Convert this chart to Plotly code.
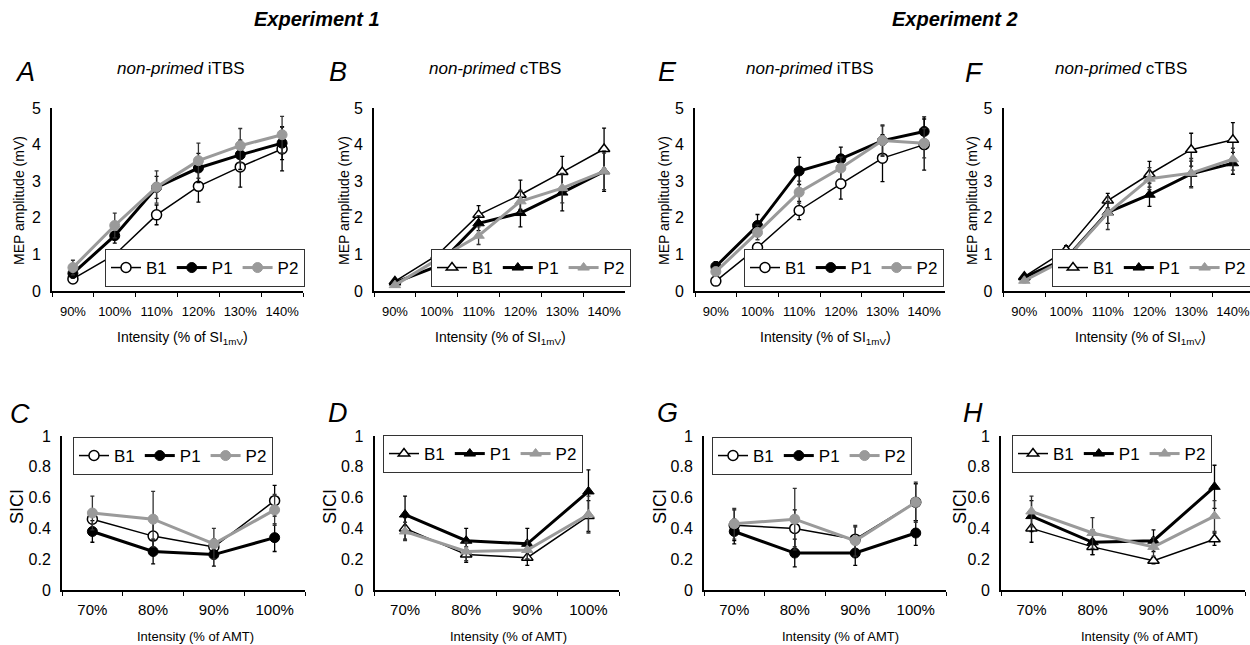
import plotly.graph_objects as go

W, H = 1250, 645
FONT = "Liberation Sans, Arial, sans-serif"

mep_cats = ["90%", "100%", "110%", "120%", "130%", "140%"]
sici_cats = ["70%", "80%", "90%", "100%"]
series_names = ["B1", "P1", "P2"]

# Experiment 1 - non-primed iTBS (A)
A_B1 = [0.33, 0.99, 2.08, 2.86, 3.39, 3.88]
A_P1 = [0.48, 1.51, 2.83, 3.36, 3.72, 4.04]
A_P2 = [0.64, 1.79, 2.84, 3.56, 3.97, 4.27]
A_B1_err = [0.07, 0.12, 0.27, 0.43, 0.55, 0.60]
A_P1_err = [0.12, 0.20, 0.30, 0.40, 0.40, 0.45]
A_P2_err = [0.20, 0.34, 0.44, 0.48, 0.47, 0.50]

# Experiment 1 - non-primed cTBS (B)
B_B1 = [0.26, 0.97, 2.08, 2.63, 3.25, 3.88]
B_P1 = [0.23, 0.67, 1.85, 2.13, 2.69, 3.27]
B_P2 = [0.16, 0.85, 1.51, 2.45, 2.81, 3.27]
B_B1_err = [0.06, 0.10, 0.25, 0.40, 0.43, 0.57]
B_P1_err = [0.05, 0.08, 0.20, 0.38, 0.50, 0.55]
B_P2_err = [0.05, 0.10, 0.24, 0.30, 0.40, 0.50]

# Experiment 2 - non-primed iTBS (E)
E_B1 = [0.27, 1.19, 2.20, 2.93, 3.63, 4.00]
E_P1 = [0.67, 1.79, 3.28, 3.61, 4.11, 4.36]
E_P2 = [0.53, 1.60, 2.70, 3.36, 4.11, 4.04]
E_B1_err = [0.05, 0.12, 0.25, 0.42, 0.64, 0.70]
E_P1_err = [0.13, 0.30, 0.37, 0.32, 0.40, 0.40]
E_P2_err = [0.10, 0.20, 0.30, 0.30, 0.43, 0.40]

# Experiment 2 - non-primed cTBS (F)
F_B1 = [0.39, 1.12, 2.47, 3.19, 3.86, 4.13]
F_P1 = [0.37, 0.89, 2.15, 2.63, 3.20, 3.49]
F_P2 = [0.28, 0.87, 2.13, 3.07, 3.22, 3.60]
F_B1_err = [0.06, 0.12, 0.20, 0.35, 0.45, 0.47]
F_P1_err = [0.05, 0.23, 0.30, 0.32, 0.35, 0.30]
F_P2_err = [0.05, 0.15, 0.45, 0.30, 0.40, 0.30]

# SICI panels
C_B1 = [0.46, 0.35, 0.28, 0.58]
C_P1 = [0.38, 0.25, 0.23, 0.34]
C_P2 = [0.50, 0.46, 0.30, 0.52]
C_B1_err = [0.06, 0.10, 0.05, 0.10]
C_P1_err = [0.07, 0.08, 0.075, 0.09]
C_P2_err = [0.11, 0.18, 0.10, 0.10]

D_B1 = [0.40, 0.23, 0.21, 0.48]
D_P1 = [0.49, 0.32, 0.30, 0.64]
D_P2 = [0.38, 0.25, 0.26, 0.49]
D_B1_err = [0.07, 0.05, 0.05, 0.10]
D_P1_err = [0.12, 0.08, 0.10, 0.14]
D_P2_err = [0.06, 0.06, 0.06, 0.12]

G_B1 = [0.42, 0.40, 0.33, 0.57]
G_P1 = [0.38, 0.24, 0.24, 0.37]
G_P2 = [0.43, 0.46, 0.32, 0.57]
G_B1_err = [0.10, 0.12, 0.08, 0.12]
G_P1_err = [0.08, 0.09, 0.08, 0.08]
G_P2_err = [0.10, 0.20, 0.10, 0.13]

H_B1 = [0.40, 0.28, 0.19, 0.33]
H_P1 = [0.48, 0.31, 0.32, 0.67]
H_P2 = [0.51, 0.37, 0.28, 0.48]
H_B1_err = [0.09, 0.05, 0.02, 0.04]
H_P1_err = [0.10, 0.08, 0.07, 0.14]
H_P2_err = [0.10, 0.10, 0.06, 0.10]

panels = [
    dict(letter="A", cats=mep_cats, sym="circle", data=[A_B1, A_P1, A_P2], err=[A_B1_err, A_P1_err, A_P2_err],
         xd=(52, 303), yd=(291, 108), yr=[0, 5], xr=[-0.5, 5.5]),
    dict(letter="B", cats=mep_cats, sym="triangle-up", data=[B_B1, B_P1, B_P2], err=[B_B1_err, B_P1_err, B_P2_err],
         xd=(374, 625), yd=(291, 108), yr=[0, 5], xr=[-0.5, 5.5]),
    dict(letter="E", cats=mep_cats, sym="circle", data=[E_B1, E_P1, E_P2], err=[E_B1_err, E_P1_err, E_P2_err],
         xd=(695, 945), yd=(291, 108), yr=[0, 5], xr=[-0.5, 5.5]),
    dict(letter="F", cats=mep_cats, sym="triangle-up", data=[F_B1, F_P1, F_P2], err=[F_B1_err, F_P1_err, F_P2_err],
         xd=(1003.5, 1250), yd=(291, 108), yr=[0, 5], xr=[-0.5, 5.41]),
    dict(letter="C", cats=sici_cats, sym="circle", data=[C_B1, C_P1, C_P2], err=[C_B1_err, C_P1_err, C_P2_err],
         xd=(62, 305), yd=(590, 436), yr=[0, 1], xr=[-0.5, 3.5]),
    dict(letter="D", cats=sici_cats, sym="triangle-up", data=[D_B1, D_P1, D_P2], err=[D_B1_err, D_P1_err, D_P2_err],
         xd=(374.5, 619), yd=(590, 436), yr=[0, 1], xr=[-0.5, 3.5]),
    dict(letter="G", cats=sici_cats, sym="circle", data=[G_B1, G_P1, G_P2], err=[G_B1_err, G_P1_err, G_P2_err],
         xd=(704, 946), yd=(590, 436), yr=[0, 1], xr=[-0.5, 3.5]),
    dict(letter="H", cats=sici_cats, sym="triangle-up", data=[H_B1, H_P1, H_P2], err=[H_B1_err, H_P1_err, H_P2_err],
         xd=(1001, 1245), yd=(590, 436), yr=[0, 1], xr=[-0.5, 3.5]),
]

styles = {
    "B1": dict(line=dict(color="black", width=1.5),
               marker=dict(color="white", size=10, line=dict(color="black", width=1.5)),
               ecolor="black"),
    "P1": dict(line=dict(color="black", width=3),
               marker=dict(color="black", size=10, line=dict(color="black", width=1)),
               ecolor="black"),
    "P2": dict(line=dict(color="#9a9a9a", width=3),
               marker=dict(color="#9a9a9a", size=10, line=dict(color="#9a9a9a", width=1)),
               ecolor="#333333"),
}

legend_pos = {
    "A": (305, 287, "right", "bottom"),
    "B": (631, 287, "right", "bottom"),
    "E": (944, 287, "right", "bottom"),
    "F": (1252, 287, "right", "bottom"),
    "C": (73, 437, "left", "top"),
    "D": (383, 435, "left", "top"),
    "G": (712, 437, "left", "top"),
    "H": (1012, 435, "left", "top"),
}

fig = go.Figure()
layout = dict(
    width=W, height=H,
    margin=dict(l=0, r=0, t=0, b=0, autoexpand=False),
    paper_bgcolor="white", plot_bgcolor="white",
    font=dict(family=FONT, color="black"),
    showlegend=True,
    template="none",
)

for i, p in enumerate(panels):
    n = i + 1
    top_row = p["yr"][1] == 5
    xa = "x" if n == 1 else f"x{n}"
    ya = "y" if n == 1 else f"y{n}"
    lg = "legend" if n == 1 else f"legend{n}"
    for sname, vals, errs in zip(series_names, p["data"], p["err"]):
        st = styles[sname]
        fig.add_trace(go.Scatter(
            x=p["cats"], y=vals, name=sname, mode="lines+markers",
            xaxis=xa, yaxis=ya, legend=lg,
            line=st["line"],
            marker=dict(symbol=p["sym"], **st["marker"]),
            error_y=dict(type="data", array=errs, visible=True, color=st["ecolor"],
                         thickness=1.3, width=2),
            cliponaxis=False,
        ))
    xkey = "xaxis" if n == 1 else f"xaxis{n}"
    ykey = "yaxis" if n == 1 else f"yaxis{n}"
    layout[xkey] = dict(
        domain=[p["xd"][0] / W, p["xd"][1] / W], anchor=ya,
        type="category", range=p["xr"], categoryorder="array", categoryarray=p["cats"],
        showline=True, linecolor="black", linewidth=2, showgrid=False, zeroline=False,
        ticks="outside", tickson="boundaries", ticklen=4, tickcolor="black", tickwidth=1,
        tickangle=0, ticklabelstandoff=7 if top_row else 5,
        tickfont=dict(size=13 if top_row else 15, family=FONT, color="black"),
        fixedrange=True,
    )
    dtick = 1 if top_row else 0.2
    layout[ykey] = dict(
        domain=[(H - p["yd"][0]) / H, (H - p["yd"][1]) / H], anchor=xa,
        range=p["yr"], dtick=dtick, tick0=0,
        showline=True, linecolor="black", linewidth=2, showgrid=False, zeroline=False,
        ticks="", ticklabelstandoff=6,
        tickfont=dict(size=16, family=FONT, color="black"),
        fixedrange=True,
    )
    lx, ly, xan, yan = legend_pos[p["letter"]]
    layout[lg] = dict(
        x=lx / W, y=(H - ly) / H, xref="paper", yref="paper",
        xanchor=xan, yanchor=yan, orientation="h",
        bgcolor="white", bordercolor="#333333", borderwidth=1,
        font=dict(size=17, family=FONT, color="black"),
        itemclick=False, itemdoubleclick=False,
        tracegroupgap=0,
    )

fig.update_layout(**layout)

ann = []

def add_text(x, y, text, size, angle=0):
    ann.append(dict(x=x / W, y=(H - y) / H, xref="paper", yref="paper",
                    text=text, showarrow=False, font=dict(size=size, family=FONT, color="black"),
                    xanchor="center", yanchor="middle", textangle=angle))

add_text(317, 19, "<b><i>Experiment 1</i></b>", 20)
add_text(955, 19, "<b><i>Experiment 2</i></b>", 20)

for letter, (x, y) in {"A": (25, 72), "B": (338, 72), "E": (667, 72), "F": (974, 73),
                       "C": (20, 414), "D": (338, 413), "G": (667, 413), "H": (973, 413)}.items():
    add_text(x, y, f"<i>{letter}</i>", 27)

for x, t in [(181, "iTBS"), (495, "cTBS"), (810, "iTBS"), (1121, "cTBS")]:
    add_text(x, 68, f"<i>non-primed</i> {t}", 17)

for x in [19, 344, 664, 972]:
    add_text(x, 201, "MEP amplitude (mV)", 14, angle=-90)
for x in [17, 330, 660, 960]:
    add_text(x, 507, "SICI", 18, angle=-90)

for x in [182, 500, 825, 1140]:
    add_text(x, 338, "Intensity (% of SI<sub>1mV</sub>)", 14)
for x in [195, 508, 841, 1139]:
    add_text(x, 636, "Intensity (% of AMT)", 13)

fig.update_layout(annotations=ann)

fig.write_html("out.html")
